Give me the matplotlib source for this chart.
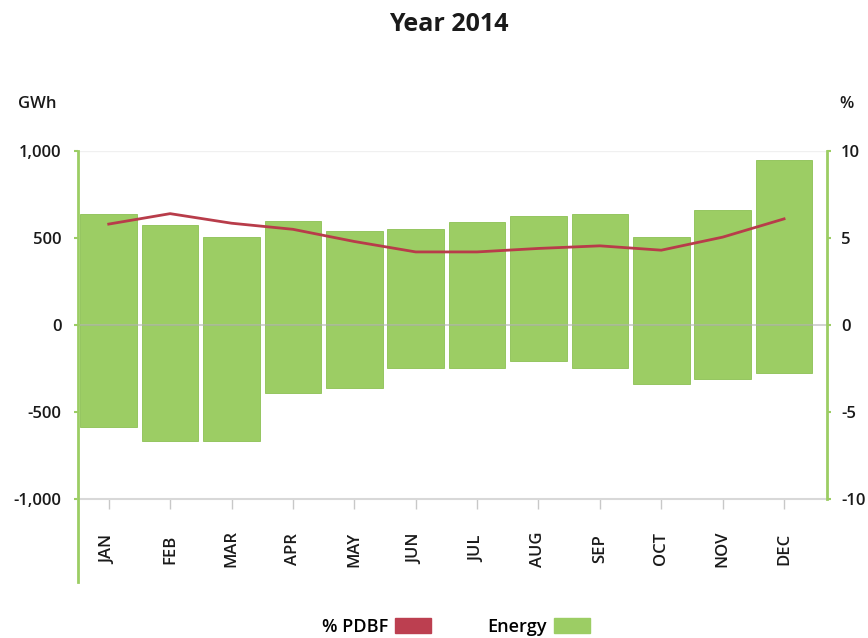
import matplotlib
matplotlib.use("Agg")
import matplotlib.pyplot as plt
from matplotlib.patches import Patch
from matplotlib.lines import Line2D

plt.rcParams['font.family'] = ['Open Sans', 'DejaVu Sans']
plt.rcParams['axes.unicode_minus'] = False

months = ["JAN", "FEB", "MAR", "APR", "MAY", "JUN", "JUL", "AUG", "SEP", "OCT", "NOV", "DEC"]
energy_pos = [638, 575, 506, 598, 540, 552, 592, 626, 638, 506, 661, 948]
energy_neg = [-586, -667, -665, -391, -362, -247, -247, -207, -247, -339, -310, -276]
pdbf_pct = [5.8, 6.4, 5.85, 5.5, 4.8, 4.2, 4.2, 4.4, 4.55, 4.3, 5.05, 6.1]
left_ticks = [-1000, -500, 0, 500, 1000]
left_labels = ["-1,000", "-500", "0", "500", "1,000"]
right_ticks = [-10, -5, 0, 5, 10]

GREEN = '#9ccd64'
GREEN_EDGE = '#8cc053'
RED = '#b83c4a'
LEG_RED = '#bc3f50'
TXT = '#1a1a1a'

fig = plt.figure(figsize=(8.68, 6.38), dpi=100)
ax = fig.add_axes([0.0899, 0.2179, 0.9528 - 0.0899, 0.7633 - 0.2179])
x = list(range(len(months)))

ax.bar(x, energy_pos, width=0.92, color=GREEN, edgecolor=GREEN_EDGE, linewidth=0.6, zorder=2)
ax.bar(x, energy_neg, width=0.92, color=GREEN, edgecolor=GREEN_EDGE, linewidth=0.6, zorder=2)
ax.axhline(0, color='#b5b5b5', lw=1.2, alpha=0.7, zorder=3)
ax.axhline(1000, color='#f0f0f0', lw=1.0, zorder=1)

ax.set_xlim(-0.5, 11.7)
ax.set_ylim(-1000, 1000)
ax.set_yticks(left_ticks)
ax.set_yticklabels(left_labels, fontweight='semibold')
ax.set_xticks(x)
ax.set_xticklabels(months, rotation=90, fontsize=12, fontweight='semibold')
for lab in ax.get_xticklabels():
    lab.set_va('center')

for s in ['top', 'right', 'left']:
    ax.spines[s].set_visible(False)
ax.spines['bottom'].set_color('#d8d8d8')
ax.spines['bottom'].set_linewidth(1.5)

ax.tick_params(axis='x', length=7, width=1, color='#c8c8c8', pad=29, labelcolor=TXT)
ax.tick_params(axis='y', length=3, width=1.5, color=GREEN, pad=9, labelsize=12, labelcolor=TXT)

# left green axis extending below
ax.add_line(Line2D([0, 0], [1, -0.24], transform=ax.transAxes, color=GREEN, lw=2, clip_on=False, zorder=5))

ax2 = ax.twinx()
ax2.plot(x, pdbf_pct, color=RED, lw=2, zorder=4)
ax2.set_ylim(-10, 10)
ax2.set_yticks(right_ticks)
ax2.set_yticklabels([str(t) for t in right_ticks], fontweight='semibold')
for s in ['top', 'left', 'bottom']:
    ax2.spines[s].set_visible(False)
ax2.spines['right'].set_color(GREEN)
ax2.spines['right'].set_linewidth(2)
ax2.tick_params(axis='y', length=3, width=1.5, color=GREEN, pad=7, labelsize=12, labelcolor=TXT)

fig.text(0.517, 0.962, "Year 2014", ha='center', va='center', fontsize=18, fontweight='bold', color=TXT)
fig.text(0.043, 0.837, "GWh", ha='center', va='center', fontsize=12, fontweight='semibold', color=TXT)
fig.text(0.975, 0.837, "%", ha='center', va='center', fontsize=12, fontweight='semibold', color=TXT)

handles = [Patch(facecolor=LEG_RED, edgecolor=LEG_RED), Patch(facecolor=GREEN, edgecolor=GREEN)]
leg = fig.legend(handles, ["% PDBF", "Energy"], loc='center', bbox_to_anchor=(0.525, 0.018),
                 ncol=2, frameon=False, markerfirst=False, handlelength=2.0, handleheight=0.9,
                 columnspacing=3.1, handletextpad=0.4,
                 prop={'size': 13, 'weight': 'semibold'})

fig.savefig("out.png", dpi=100)
